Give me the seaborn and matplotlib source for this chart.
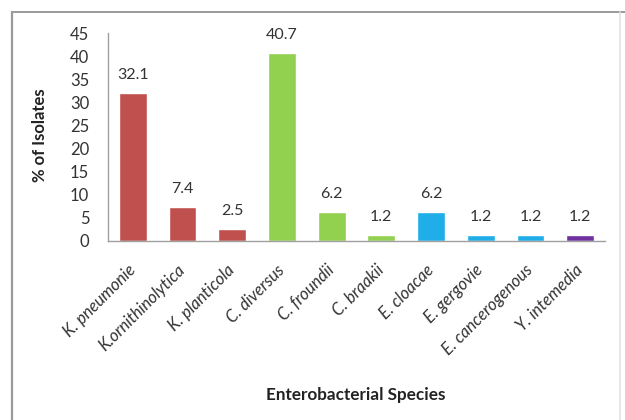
import matplotlib
matplotlib.use("Agg")
import matplotlib.pyplot as plt
from matplotlib.lines import Line2D
import seaborn as sns
import pandas as pd

# Enterobacterial species and share of isolates (%)
species = ["K. pneumonie", "K.ornithinolytica", "K. planticola", "C. diversus",
           "C. froundii", "C. braakii", "E. cloacae", "E. gergovie",
           "E. cancerogenous", "Y. intemedia"]
percent = [32.1, 7.4, 2.5, 40.7, 6.2, 1.2, 6.2, 1.2, 1.2, 1.2]
genus_colors = ["#C0504D", "#C0504D", "#C0504D",
                "#92D050", "#92D050", "#92D050",
                "#1FAEE8", "#1FAEE8", "#1FAEE8",
                "#7030A0"]
y_ticks = [0, 5, 10, 15, 20, 25, 30, 35, 40, 45]

sns.set_style("white")
plt.rcParams["font.family"] = ["Lato", "DejaVu Sans"]

df = pd.DataFrame({"species": species, "percent": percent})

fig = plt.figure(figsize=(6.25, 4.2), dpi=100)
ax = fig.add_axes([108 / 625, 1 - 241 / 420, (605 - 108) / 625, (241 - 33) / 420])

sns.barplot(data=df, x="species", y="percent", hue="species",
            palette=genus_colors, dodge=False, legend=False,
            width=0.56, saturation=1, ax=ax)

for patch, v in zip(ax.patches, percent):
    ax.annotate(f"{v}", (patch.get_x() + patch.get_width() / 2, v),
                xytext=(0, 13), textcoords="offset points",
                ha="center", va="center", fontsize=11.5, color="#333333")

ax.set_ylim(0, 45)
ax.set_yticks(y_ticks)
ax.set_xlim(-0.5, len(species) - 0.5)
ax.tick_params(axis="y", length=0, pad=13.5, labelsize=12, labelcolor="#333333")
ax.tick_params(axis="x", length=0, pad=19, labelsize=12, labelcolor="#333333")
plt.setp(ax.get_xticklabels(), rotation=45, ha="right", va="center",
         rotation_mode="anchor", style="italic")

for side in ["top", "right"]:
    ax.spines[side].set_visible(False)
for side in ["left", "bottom"]:
    ax.spines[side].set_color("#A0A0A0")
    ax.spines[side].set_linewidth(1)

ax.set_ylabel("% of Isolates", fontsize=12, fontweight="bold", color="#222222")
ax.yaxis.set_label_coords(-0.121, 0.51)
ax.set_xlabel("")
fig.text(356 / 625, 1 - 395 / 420, "Enterobacterial Species", ha="center",
         va="center", fontsize=12.3, fontweight="bold", color="#222222")

# chart-area frame: darker left and top edges, faint right edge
x0, x1, y0 = 12 / 625, 620 / 625, 1 - 12 / 420
fig.add_artist(Line2D([x0, x0], [0, y0], transform=fig.transFigure,
                      color="#9A9A9A", linewidth=1.6))
fig.add_artist(Line2D([x0, 1], [y0, y0], transform=fig.transFigure,
                      color="#9A9A9A", linewidth=1.4))
fig.add_artist(Line2D([x1, x1], [0, y0], transform=fig.transFigure,
                      color="#E2E2E2", linewidth=1.2))

fig.savefig("out.png", dpi=100)
